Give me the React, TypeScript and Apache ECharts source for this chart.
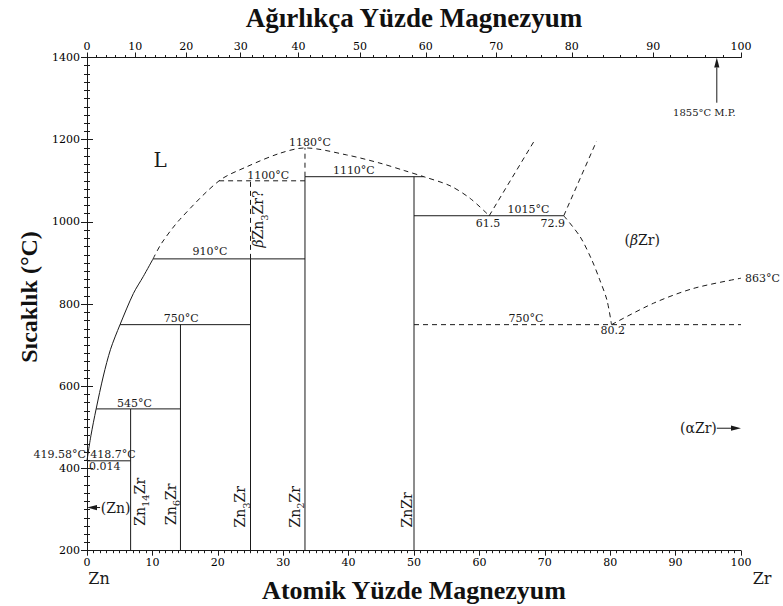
import React, { useEffect, useRef } from "react";
import * as echarts from "echarts";

// Atomic masses used to convert the weight-percent scale (top) to atomic percent (bottom)
const ZN_MASS = 65.38;
const ZR_MASS = 91.224;

// Tick labels
const atomicTicks = [0, 10, 20, 30, 40, 50, 60, 70, 80, 90, 100];
const weightTicks = [0, 10, 20, 30, 40, 50, 60, 70, 80, 90, 100];
const weightMinorTicks = Array.from({ length: 51 }, (_, i) => i * 2);
const temperatureTicks = [200, 400, 600, 800, 1000, 1200, 1400];

// Phase boundaries: [atomic %, temperature °C]
const liquidusSolid = [
  [0, 419.58], [0.6, 480], [1.4, 545], [2.5, 625], [3.6, 690],
  [5.05, 750], [7.1, 826], [8.6, 867], [10.1, 910],
];
const liquidusDashed = [
  [10.1, 910], [11.4, 948], [14.2, 1006], [20.2, 1100], [24.4, 1134],
  [29.5, 1167], [33.33, 1180], [39.7, 1163], [44.8, 1143], [48.5, 1125],
  [51.5, 1110], [55.5, 1088], [58.6, 1057], [61.5, 1015],
];
const eutecticBranch = [[61.5, 1015], [68.5, 1200]];
const peritecticBranch = [[72.9, 1015], [77.9, 1196]];
const betaSolvus = [
  [72.9, 1015], [75.4, 964], [77.2, 907], [78.4, 859], [79.5, 810], [80.2, 750],
];
const alphaBetaBoundary = [[80.2, 750], [86.6, 802], [92.7, 838], [100, 863]];

// Invariant isotherms and compound lines
const solidSegments = [
  [[1.4, 545], [6.67, 545], [14.29, 545]],
  [[0.014, 418.7], [6.67, 418.7]],
  [[5.05, 750], [25, 750]],
  [[10.1, 910], [33.33, 910]],
  [[33.33, 1110], [51.5, 1110]],
  [[50, 1015], [72.9, 1015]],
  [[6.67, 200], [6.67, 545]],
  [[14.29, 200], [14.29, 750]],
  [[25, 200], [25, 910]],
  [[33.33, 200], [33.33, 1110]],
  [[50, 200], [50, 1110]],
];
const dashedSegments = [
  [[20.2, 1100], [33.33, 1100]],
  [[50, 750], [100, 750]],
  [[25, 910], [25, 1100]],
  [[33.33, 1110], [33.33, 1180]],
];

// Text annotations anchored in data space
type Note = { text: string; x: number; t: number; kind: string; align?: string };
const notes: Note[] = [
  { text: "L", x: 11.2, t: 1151, kind: "big" },
  { text: "1180°C", x: 34.1, t: 1194, kind: "temp" },
  { text: "1100°C", x: 27.7, t: 1114, kind: "temp" },
  { text: "1110°C", x: 40.8, t: 1126, kind: "temp" },
  { text: "910°C", x: 18.8, t: 927, kind: "temp" },
  { text: "750°C", x: 14.4, t: 766, kind: "temp" },
  { text: "545°C", x: 7.26, t: 557, kind: "temp" },
  { text: "418.7°C", x: 0.5, t: 433, kind: "temp", align: "left" },
  { text: "419.58°C", x: -0.15, t: 433, kind: "temp", align: "right" },
  { text: "0.014", x: 0.3, t: 404, kind: "temp", align: "left" },
  { text: "1015°C", x: 67.5, t: 1029, kind: "temp" },
  { text: "61.5", x: 61.3, t: 995, kind: "temp" },
  { text: "72.9", x: 71.2, t: 995, kind: "temp" },
  { text: "750°C", x: 67.1, t: 766, kind: "temp" },
  { text: "80.2", x: 80.4, t: 735, kind: "temp" },
  { text: "863°C", x: 100.6, t: 863, kind: "temp", align: "left" },
  { text: "1855°C M.P.", x: 94.4, t: 1267, kind: "small" },
  { text: "{p|(}{i|β}{p|Zr)}", x: 84.9, t: 956, kind: "phase" },
  { text: "(αZr)", x: 96.3, t: 498, kind: "phase", align: "right" },
  { text: "(Zn)", x: 2.1, t: 304, kind: "phase", align: "left" },
  { text: "{a|Zn}{s|14}{a|Zr}", x: 8.1, t: 319, kind: "compound" },
  { text: "{a|Zn}{s|6}{a|Zr}", x: 12.8, t: 313, kind: "compound" },
  { text: "{a|Zn}{s|3}{a|Zr}", x: 23.4, t: 307, kind: "compound" },
  { text: "{a|Zn}{s|2}{a|Zr}", x: 31.8, t: 307, kind: "compound" },
  { text: "{a|ZnZr}", x: 48.9, t: 299, kind: "compound" },
  { text: "{i|β}{a|Zn}{s|3}{a|Zr?}", x: 26.2, t: 1007, kind: "compound" },
];

// Arrows: [from, to] in data space
const arrows = [
  [[96.3, 1290], [96.3, 1400]],
  [[96.3, 498], [100, 498]],
  [[2.0, 305], [0, 305]],
];

const SERIF = "'DejaVu Serif', serif";
const TITLE_FONT = "'Liberation Serif', 'Times New Roman', serif";
const INK = "#1a1a1a";

const NOTE_SIZE: Record<string, number> = { big: 20, temp: 11, small: 10, phase: 14, compound: 14 };

function wtToAt(w: number) {
  const zr = w / ZR_MASS;
  const zn = (100 - w) / ZN_MASS;
  return (100 * zr) / (zr + zn);
}

function lineSeries(data: number[][], dashed: boolean, smooth: number | boolean = false) {
  return {
    type: "line",
    data,
    xAxisIndex: 0,
    yAxisIndex: 0,
    symbol: "none",
    showSymbol: false,
    smooth,
    silent: true,
    lineStyle: { color: INK, width: 1, type: dashed ? [5, 4] : "solid" },
    z: 3,
  };
}

function richFor(size: number) {
  return {
    a: { fontFamily: SERIF, fontSize: size, lineHeight: 22, fill: INK, verticalAlign: "middle" },
    s: { fontFamily: SERIF, fontSize: 10, lineHeight: 10, fill: INK, verticalAlign: "bottom" },
    i: { fontFamily: SERIF, fontSize: size, lineHeight: 22, fill: INK, fontStyle: "italic" },
    p: { fontFamily: SERIF, fontSize: size, lineHeight: 22, fill: INK },
  };
}

export default function App() {
  const ref = useRef<HTMLDivElement>(null);

  useEffect(() => {
    if (!ref.current) return;
    const chart = echarts.init(ref.current, undefined, { renderer: "svg" });

    const weightPositions = weightTicks.map(wtToAt);
    const weightMinorPositions = weightMinorTicks.map(wtToAt);

    const axisLine = { show: true, lineStyle: { color: INK, width: 1 } };
    const labelStyle = { color: "#000", fontFamily: SERIF, fontSize: 11 };

    const series: any[] = [
      lineSeries(liquidusSolid, false, 0.3),
      lineSeries(liquidusDashed, true, 0.3),
      lineSeries(eutecticBranch, true),
      lineSeries(peritecticBranch, true),
      lineSeries(betaSolvus, true, 0.3),
      lineSeries(alphaBetaBoundary, true, 0.3),
      ...solidSegments.map((s) => lineSeries(s, false)),
      ...dashedSegments.map((s) => lineSeries(s, true)),
      {
        type: "custom",
        xAxisIndex: 0,
        yAxisIndex: 0,
        silent: true,
        z: 5,
        data: notes.map((n) => [n.x, n.t]),
        renderItem: (params: any, api: any) => {
          const n = notes[params.dataIndex];
          const p = api.coord([api.value(0), api.value(1)]);
          const size = NOTE_SIZE[n.kind];
          return {
            type: "text",
            x: p[0],
            y: p[1],
            rotation: n.kind === "compound" ? Math.PI / 2 : 0,
            style: {
              text: n.text,
              rich: richFor(size),
              fontFamily: SERIF,
              fontSize: size,
              fill: INK,
              align: n.align || "center",
              verticalAlign: "middle",
            },
          };
        },
      },
      {
        type: "custom",
        xAxisIndex: 0,
        yAxisIndex: 0,
        silent: true,
        z: 5,
        data: arrows.map((a) => [a[0][0], a[0][1], a[1][0], a[1][1]]),
        renderItem: (params: any, api: any) => {
          const p0 = api.coord([api.value(0), api.value(1)]);
          const p1 = api.coord([api.value(2), api.value(3)]);
          const dx = p1[0] - p0[0];
          const dy = p1[1] - p0[1];
          const len = Math.hypot(dx, dy) || 1;
          const ux = dx / len;
          const uy = dy / len;
          const headL = 10;
          const headW = 2.6;
          const bx = p1[0] - ux * headL;
          const by = p1[1] - uy * headL;
          return {
            type: "group",
            children: [
              {
                type: "line",
                shape: { x1: p0[0], y1: p0[1], x2: bx, y2: by },
                style: { stroke: INK, lineWidth: 1 },
              },
              {
                type: "polygon",
                shape: {
                  points: [
                    [p1[0], p1[1]],
                    [bx - uy * headW, by + ux * headW],
                    [bx + uy * headW, by - ux * headW],
                  ],
                },
                style: { fill: INK },
              },
            ],
          };
        },
      },
    ];

    chart.setOption({
      animation: false,
      backgroundColor: "#fff",
      grid: { left: 87, right: 42, top: 57.5, bottom: 55.3, containLabel: false },
      xAxis: [
        {
          type: "value",
          position: "bottom",
          min: 0,
          max: 100,
          interval: 10,
          axisLine,
          axisTick: { show: true, inside: false, length: 5, lineStyle: { color: INK } },
          minorTick: { show: true, splitNumber: 10, length: 2.5, lineStyle: { color: INK } },
          splitLine: { show: false },
          axisLabel: {
            ...labelStyle,
            margin: 6,
            formatter: (v: number) => (atomicTicks.includes(v) ? String(v) : ""),
          },
        },
        {
          type: "value",
          position: "top",
          min: 0,
          max: 100,
          axisLine,
          axisTick: { show: true, inside: false, length: 5, customValues: weightPositions, lineStyle: { color: INK } },
          splitLine: { show: false },
          axisLabel: {
            ...labelStyle,
            margin: 6,
            customValues: weightPositions,
            formatter: (v: number) => {
              let best = 0;
              weightPositions.forEach((p, i) => {
                if (Math.abs(p - v) < Math.abs(weightPositions[best] - v)) best = i;
              });
              return String(weightTicks[best]);
            },
          },
        },
        {
          type: "value",
          position: "top",
          min: 0,
          max: 100,
          axisLine: { show: false },
          axisTick: { show: true, inside: false, length: 2.5, customValues: weightMinorPositions, lineStyle: { color: INK } },
          splitLine: { show: false },
          axisLabel: { show: false },
        },
      ],
      yAxis: [
        {
          type: "value",
          position: "left",
          min: 200,
          max: 1400,
          interval: 200,
          axisLine,
          axisTick: { show: true, inside: false, length: 6, lineStyle: { color: INK } },
          minorTick: { show: true, splitNumber: 10, length: 3, lineStyle: { color: INK } },
          splitLine: { show: false },
          axisLabel: {
            ...labelStyle,
            margin: 7,
            formatter: (v: number) => (temperatureTicks.includes(v) ? String(v) : ""),
          },
        },
        {
          type: "value",
          position: "right",
          min: 200,
          max: 1400,
          interval: 200,
          axisLine,
          axisTick: { show: true, inside: false, length: 6, lineStyle: { color: INK } },
          minorTick: { show: true, splitNumber: 10, length: 3, lineStyle: { color: INK } },
          splitLine: { show: false },
          axisLabel: { show: false },
        },
      ],
      graphic: [
        {
          type: "text",
          x: 414,
          y: 18,
          style: {
            text: "Ağırlıkça Yüzde Magnezyum",
            fontFamily: TITLE_FONT,
            fontWeight: "bold",
            fontSize: 27,
            fill: "#111",
            align: "center",
            verticalAlign: "middle",
          },
        },
        {
          type: "text",
          x: 414,
          y: 590,
          style: {
            text: "Atomik Yüzde Magnezyum",
            fontFamily: TITLE_FONT,
            fontWeight: "bold",
            fontSize: 26,
            fill: "#111",
            align: "center",
            verticalAlign: "middle",
          },
        },
        {
          type: "text",
          x: 29,
          y: 297,
          rotation: Math.PI / 2,
          style: {
            text: "Sıcaklık (°C)",
            fontFamily: TITLE_FONT,
            fontWeight: "bold",
            fontSize: 24,
            fill: "#111",
            align: "center",
            verticalAlign: "middle",
          },
        },
        {
          type: "text",
          x: 99,
          y: 578,
          style: { text: "Zn", fontFamily: SERIF, fontSize: 16, fill: INK, align: "center", verticalAlign: "middle" },
        },
        {
          type: "text",
          x: 762,
          y: 578,
          style: { text: "Zr", fontFamily: SERIF, fontSize: 16, fill: INK, align: "center", verticalAlign: "middle" },
        },
      ],
      series,
    });

    return () => chart.dispose();
  }, []);

  return (
    <div
      ref={ref}
      style={{ position: "fixed", left: 0, top: 0, width: 783, height: 606, background: "#fff" }}
    />
  );
}
